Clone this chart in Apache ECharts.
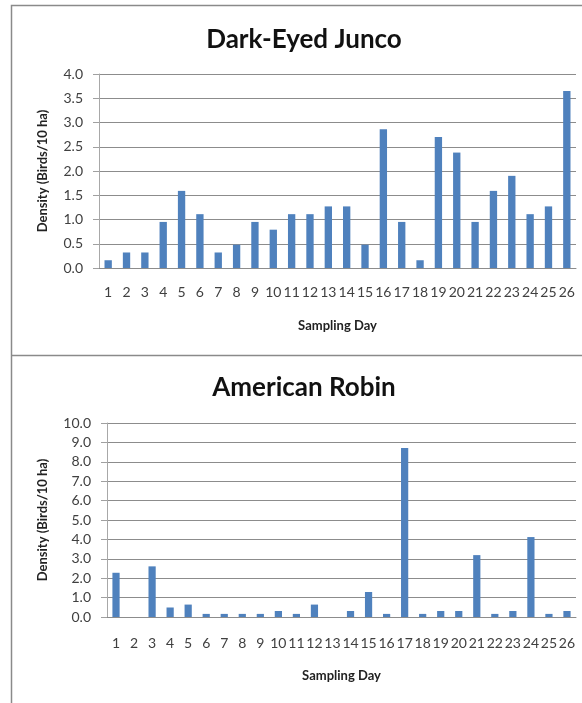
<!DOCTYPE html>
<html>
<head>
<meta charset="utf-8">
<script src="https://cdn.jsdelivr.net/npm/echarts@6/dist/echarts.min.js"></script>
<style>
  html, body { margin: 0; padding: 0; background: #fff; }
  #chart { width: 582px; height: 703px; }
</style>
</head>
<body>
<div id="chart"></div>
<script>
// Sampling days 1..26
const days = ['1','2','3','4','5','6','7','8','9','10','11','12','13','14','15','16','17','18','19','20','21','22','23','24','25','26'];

// Density (Birds/10 ha) per sampling day
const juncoDensity = [0.16, 0.32, 0.32, 0.95, 1.59, 1.11, 0.32, 0.48, 0.95, 0.79, 1.11, 1.11, 1.27,
                      1.27, 0.48, 2.86, 0.95, 0.16, 2.70, 2.38, 0.95, 1.59, 1.90, 1.11, 1.27, 3.65];
const robinDensity = [2.28, 0, 2.61, 0.49, 0.64, 0.16, 0.16, 0.16, 0.16, 0.31, 0.16, 0.64, 0,
                      0.31, 1.29, 0.16, 8.71, 0.16, 0.31, 0.31, 3.19, 0.16, 0.31, 4.12, 0.16, 0.31];

const juncoTitle = 'Dark-Eyed Junco';
const robinTitle = 'American Robin';
const yName = 'Density (Birds/10 ha)';
const xName = 'Sampling Day';

const FONT = 'Lato, "Liberation Sans", Arial, sans-serif';
const BAR = '#4F81BD';
const GRID_LINE = '#8c8c8c';
const LABEL = '#404040';

function yAxis(idx, max, interval, gap) {
  return {
    type: 'value', gridIndex: idx, min: 0, max: max, interval: interval,
    name: yName, nameLocation: 'middle', nameGap: gap,
    nameTextStyle: { fontFamily: FONT, fontSize: 13, fontWeight: 'bold', color: '#222' },
    axisLine: { show: true, lineStyle: { color: '#a8a8a8', width: 1 } },
    axisTick: { show: true, length: 6, lineStyle: { color: '#a0a0a0' } },
    splitLine: { show: true, lineStyle: { color: GRID_LINE, width: 1 } },
    axisLabel: { fontFamily: FONT, fontSize: 14, color: LABEL, margin: 16,
                 formatter: v => v.toFixed(1) }
  };
}

function xAxis(idx, margin, gap) {
  return {
    type: 'category', gridIndex: idx, data: days,
    name: xName, nameLocation: 'middle', nameGap: gap,
    nameTextStyle: { fontFamily: FONT, fontSize: 13, fontWeight: 'bold', color: '#222' },
    axisLine: { show: true, lineStyle: { color: GRID_LINE, width: 1 } },
    axisTick: { show: false },
    axisLabel: { interval: 0, fontFamily: FONT, fontSize: 14, color: LABEL, margin: margin }
  };
}

const chart = echarts.init(document.getElementById('chart'), null, { renderer: 'canvas' });
chart.setOption({
  animation: false,
  backgroundColor: '#fff',
  title: [
    { text: juncoTitle, left: 299, top: 22, textAlign: 'center',
      textStyle: { fontFamily: FONT, fontSize: 26, fontWeight: 'bold', color: '#111' } },
    { text: robinTitle, left: 299, top: 370, textAlign: 'center',
      textStyle: { fontFamily: FONT, fontSize: 26, fontWeight: 'bold', color: '#111' } }
  ],
  grid: [
    { left: 99, right: 6, top: 74, height: 194 },
    { left: 107, right: 6, top: 423, height: 194 }
  ],
  xAxis: [xAxis(0, 17, 51), xAxis(1, 19, 52)],
  yAxis: [yAxis(0, 4, 0.5, 50), yAxis(1, 10, 1, 58)],
  series: [
    { type: 'bar', xAxisIndex: 0, yAxisIndex: 0, data: juncoDensity,
      barWidth: '40%', itemStyle: { color: BAR } },
    { type: 'bar', xAxisIndex: 1, yAxisIndex: 1, data: robinDensity,
      barWidth: '40%', itemStyle: { color: BAR } }
  ],
  graphic: [
    // frame around both panels
    { type: 'polyline', silent: true,
      shape: { points: [[582, 5.5], [11.5, 5.5], [11.5, 703]] },
      style: { stroke: '#8a8a8a', lineWidth: 1.5, fill: null } },
    { type: 'line', silent: true,
      shape: { x1: 11.5, y1: 355.5, x2: 582, y2: 355.5 },
      style: { stroke: '#8a8a8a', lineWidth: 1.5 } }
  ]
});
</script>
</body>
</html>
